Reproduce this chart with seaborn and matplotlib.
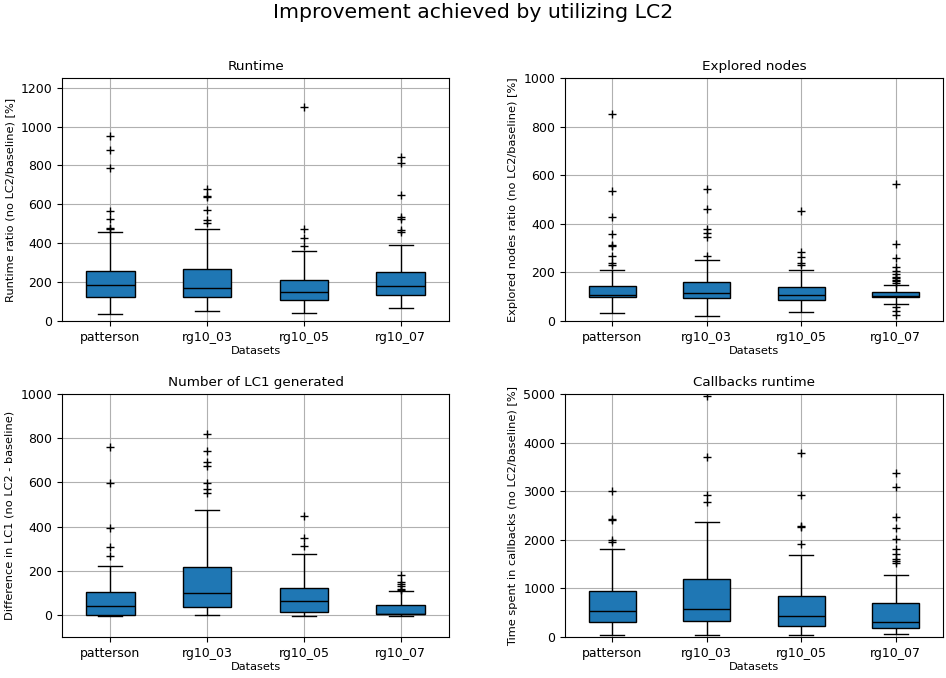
import numpy as np
import pandas as pd
import matplotlib
matplotlib.use("Agg")
import matplotlib.pyplot as plt
import seaborn as sns

datasets = ["patterson", "rg10_03", "rg10_05", "rg10_07"]

# ---- Runtime ----
rt_whislo = [38, 50, 41, 67]
rt_q1 = [125, 123, 106, 135]
rt_med = [185, 168, 149, 180]
rt_q3 = [259, 269, 209, 254]
rt_whishi = [459, 475, 358, 389]
rt_fliers = [
    [953, 880, 789, 567, 525, 480, 473],
    [677, 644, 638, 571, 518, 506],
    [1099, 473, 427, 384],
    [844, 811, 648, 537, 523, 466, 456],
]

# ---- Explored nodes ----
en_whislo = [34, 22, 38, 70]
en_q1 = [100, 93, 86, 99]
en_med = [105, 115, 108, 101]
en_q3 = [145, 159, 141, 119]
en_whishi = [208, 251, 208, 147]
en_fliers = [
    [851, 536, 426, 358, 311, 308, 266, 238, 229],
    [543, 462, 379, 362, 344, 266],
    [453, 286, 262, 237, 229],
    [562, 318, 258, 222, 207, 195, 181, 175, 170, 166, 158, 58, 40, 24],
]

# ---- Number of LC1 generated ----
lc_whislo = [-5, -2, -6, -3]
lc_q1 = [0, 38, 14, 2]
lc_med = [41, 97, 65, 6]
lc_q3 = [105, 215, 124, 45]
lc_whishi = [222, 476, 275, 106]
lc_fliers = [
    [762, 598, 392, 308, 265],
    [819, 744, 690, 676, 598, 572, 551],
    [450, 350, 314],
    [180, 149, 140, 130, 119, 115],
]

# ---- Callbacks runtime ----
cb_whislo = [41, 48, 48, 62]
cb_q1 = [302, 337, 227, 192]
cb_med = [529, 584, 426, 316]
cb_q3 = [948, 1188, 838, 707]
cb_whishi = [1813, 2363, 1683, 1277]
cb_fliers = [
    [3001, 2438, 2411, 2005, 1957],
    [4952, 3702, 2912, 2768],
    [3777, 2919, 2294, 2266, 1916],
    [3372, 3077, 2459, 2246, 2012, 1820, 1717, 1614, 1566, 1532],
]

titles = ["Runtime", "Explored nodes", "Number of LC1 generated", "Callbacks runtime"]
ylabels = [
    "Runtime ratio (no LC2/baseline) [%]",
    "Explored nodes ratio (no LC2/baseline) [%]",
    "Difference in LC1 (no LC2 - baseline)",
    "Time spent in callbacks (no LC2/baseline) [%]",
]
ylims = [(0, 1250), (0, 1000), (-100, 1000), (0, 5000)]

panels = [
    (rt_whislo, rt_q1, rt_med, rt_q3, rt_whishi, rt_fliers),
    (en_whislo, en_q1, en_med, en_q3, en_whishi, en_fliers),
    (lc_whislo, lc_q1, lc_med, lc_q3, lc_whishi, lc_fliers),
    (cb_whislo, cb_q1, cb_med, cb_q3, cb_whishi, cb_fliers),
]

REP = 100  # repetition so that the library's quartiles land exactly on the read values


def build_frame(whislo, q1, med, q3, whishi, fliers):
    rows = []
    for i, name in enumerate(datasets):
        vals = list(fliers[i]) + [whislo[i]] + [q1[i]] * REP + [med[i]] * REP \
            + [q3[i]] * REP + [whishi[i]]
        rows += [(name, v) for v in vals]
    return pd.DataFrame(rows, columns=["dataset", "value"])


W, H = 946, 678
fig = plt.figure(figsize=(W / 100, H / 100), dpi=100)
rects = [
    (62, 78, 449, 321),
    (565, 78, 943, 321),
    (62, 394, 449, 637),
    (565, 394, 943, 637),
]

for k, (rect, stats) in enumerate(zip(rects, panels)):
    x0, y0, x1, y1 = rect
    ax = fig.add_axes([x0 / W, 1 - y1 / H, (x1 - x0) / W, (y1 - y0) / H])
    df = build_frame(*stats)
    sns.boxplot(
        data=df, x="dataset", y="value", order=datasets, ax=ax,
        width=0.5, color="#1f77b4", saturation=1, linecolor="black", linewidth=1,
        flierprops=dict(marker="+", markersize=6, markeredgecolor="black",
                        markeredgewidth=1),
        medianprops=dict(color="black", linewidth=1),
        boxprops=dict(edgecolor="black", linewidth=1),
    )
    ax.grid(True, color="#b0b0b0", linewidth=0.8)
    ax.set_axisbelow("line")
    ax.set_ylim(*ylims[k])
    ax.set_xlim(-0.5, 3.5)
    ax.set_title(titles[k], fontsize=9.7)
    ax.set_xlabel("Datasets", fontsize=8.2, labelpad=2)
    ax.set_ylabel(ylabels[k], fontsize=8.2)
    ax.tick_params(labelsize=9)
    for s in ax.spines.values():
        s.set_visible(True)
        s.set_color("black")
        s.set_linewidth(0.8)

fig.suptitle("Improvement achieved by utilizing LC2", fontsize=14.7, y=0.995)
fig.savefig("out.png", dpi=100)
